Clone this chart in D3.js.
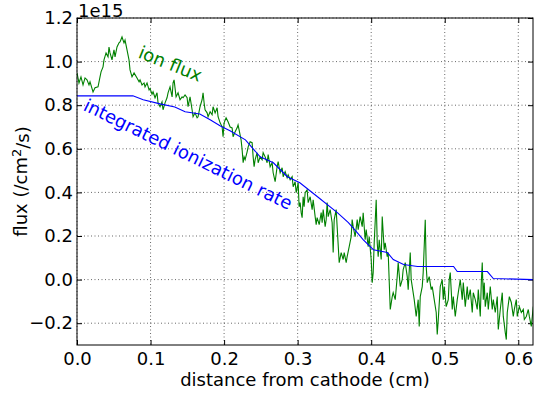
<!DOCTYPE html>
<html>
<head>
<meta charset="utf-8">
<script src="https://cdn.jsdelivr.net/npm/d3@7/dist/d3.min.js"></script>
<style>
  body { margin: 0; background: #fff; }
  text { font-family: "DejaVu Sans", sans-serif; }
</style>
</head>
<body>
<div id="chart"></div>
<script>
// flux values are in units of 1e15 /cm^2/s
const ionDist = [0.0000,0.0027,0.0054,0.0082,0.0109,0.0136,0.0163,0.0177,0.0218,0.0245,0.0286,0.0313,0.0327,0.0354,0.0367,0.0395,0.0422,0.0435,0.0449,0.0476,0.0503,0.0517,0.0544,0.0571,0.0585,0.0612,0.0639,0.0653,0.0680,0.0707,0.0721,0.0748,0.0776,0.0816,0.0844,0.0857,0.0884,0.0912,0.0925,0.0952,0.0980,0.0993,0.1020,0.1034,0.1061,0.1088,0.1102,0.1129,0.1156,0.1170,0.1197,0.1224,0.1238,0.1265,0.1293,0.1306,0.1320,0.1347,0.1374,0.1401,0.1429,0.1442,0.1469,0.1497,0.1510,0.1537,0.1565,0.1578,0.1605,0.1633,0.1646,0.1673,0.1701,0.1714,0.1728,0.1741,0.1769,0.1782,0.1810,0.1837,0.1850,0.1878,0.1905,0.1918,0.1946,0.1973,0.1986,0.2000,0.2027,0.2054,0.2082,0.2109,0.2122,0.2150,0.2177,0.2190,0.2204,0.2231,0.2245,0.2259,0.2272,0.2286,0.2313,0.2327,0.2354,0.2381,0.2395,0.2408,0.2422,0.2449,0.2463,0.2490,0.2517,0.2531,0.2558,0.2585,0.2599,0.2626,0.2653,0.2667,0.2694,0.2721,0.2735,0.2762,0.2789,0.2803,0.2830,0.2857,0.2871,0.2898,0.2925,0.2939,0.2966,0.2980,0.3007,0.3020,0.3034,0.3048,0.3061,0.3075,0.3088,0.3102,0.3129,0.3143,0.3170,0.3197,0.3211,0.3238,0.3252,0.3265,0.3293,0.3320,0.3333,0.3347,0.3374,0.3388,0.3401,0.3415,0.3442,0.3469,0.3483,0.3497,0.3524,0.3537,0.3565,0.3592,0.3619,0.3633,0.3660,0.3673,0.3701,0.3728,0.3741,0.3755,0.3782,0.3810,0.3823,0.3850,0.3878,0.3891,0.3918,0.3932,0.3959,0.3973,0.4000,0.4014,0.4027,0.4041,0.4068,0.4082,0.4095,0.4109,0.4136,0.4150,0.4177,0.4190,0.4218,0.4231,0.4259,0.4286,0.4299,0.4327,0.4354,0.4367,0.4395,0.4422,0.4435,0.4463,0.4490,0.4503,0.4531,0.4544,0.4585,0.4612,0.4639,0.4653,0.4667,0.4694,0.4707,0.4735,0.4748,0.4762,0.4789,0.4816,0.4830,0.4857,0.4884,0.4898,0.4912,0.4939,0.4966,0.4980,0.4993,0.5020,0.5048,0.5061,0.5075,0.5102,0.5116,0.5143,0.5170,0.5184,0.5211,0.5238,0.5252,0.5279,0.5306,0.5320,0.5347,0.5374,0.5388,0.5415,0.5442,0.5456,0.5483,0.5497,0.5510,0.5524,0.5537,0.5551,0.5578,0.5592,0.5619,0.5646,0.5660,0.5687,0.5714,0.5728,0.5755,0.5782,0.5796,0.5823,0.5837,0.5850,0.5878,0.5905,0.5932,0.5946,0.5973,0.5986,0.6014,0.6041,0.6068,0.6082,0.6109,0.6136,0.6150,0.6177,0.6204];
const ionFlux = [0.948,0.902,0.930,0.893,0.925,0.916,0.893,0.907,0.861,0.880,0.884,0.930,0.953,0.976,1.008,1.040,1.022,1.067,1.040,1.008,1.054,1.022,1.067,1.086,1.090,1.113,1.086,1.099,1.054,1.008,0.962,0.930,0.948,0.925,0.907,0.916,0.893,0.902,0.884,0.902,0.870,0.877,0.850,0.861,0.834,0.857,0.811,0.793,0.815,0.779,0.811,0.834,0.857,0.884,0.838,0.902,0.916,0.838,0.857,0.825,0.838,0.834,0.847,0.834,0.793,0.838,0.779,0.747,0.765,0.742,0.747,0.793,0.825,0.857,0.811,0.779,0.765,0.747,0.770,0.756,0.793,0.765,0.788,0.747,0.719,0.701,0.655,0.719,0.742,0.724,0.700,0.696,0.655,0.678,0.696,0.710,0.687,0.641,0.596,0.536,0.563,0.550,0.586,0.609,0.632,0.628,0.563,0.518,0.550,0.582,0.536,0.563,0.550,0.582,0.563,0.536,0.573,0.518,0.536,0.490,0.449,0.518,0.541,0.490,0.513,0.472,0.495,0.467,0.481,0.458,0.472,0.426,0.449,0.399,0.444,0.334,0.353,0.307,0.284,0.380,0.334,0.399,0.412,0.353,0.380,0.321,0.366,0.289,0.252,0.284,0.252,0.307,0.261,0.321,0.243,0.275,0.353,0.289,0.321,0.261,0.124,0.275,0.321,0.243,0.078,0.124,0.092,0.124,0.078,0.105,0.151,0.197,0.275,0.243,0.197,0.275,0.229,0.289,0.243,0.307,0.183,0.229,0.151,0.197,0.092,-0.014,0.032,0.169,0.366,0.169,0.105,0.183,0.092,0.289,0.137,0.169,0.105,0.124,-0.137,-0.078,-0.060,-0.092,0.014,0.078,-0.032,0.000,0.046,0.078,0.014,-0.046,0.124,0.000,-0.092,-0.169,-0.092,-0.215,-0.078,-0.032,0.032,0.275,0.060,-0.014,0.014,-0.046,-0.032,-0.092,-0.151,-0.252,-0.183,-0.032,0.000,-0.092,-0.032,-0.124,-0.092,0.000,0.032,-0.137,-0.078,-0.169,-0.092,-0.060,0.000,-0.092,-0.014,-0.124,-0.032,-0.092,-0.046,-0.151,-0.060,-0.092,-0.137,-0.046,-0.169,-0.014,0.078,-0.092,-0.014,-0.124,-0.060,-0.137,-0.032,-0.137,-0.092,-0.151,-0.078,-0.229,-0.137,-0.060,-0.169,-0.243,-0.275,-0.151,-0.078,-0.105,-0.169,-0.137,-0.092,-0.169,-0.124,-0.151,-0.137,-0.183,-0.169,-0.137,-0.169,-0.215,-0.124];

const ionizDist = [0.000,0.076,0.090,0.113,0.133,0.147,0.167,0.181,0.195,0.208,0.229,0.249,0.267,0.286,0.303,0.327,0.354,0.369,0.381,0.389,0.403,0.422,0.430,0.444,0.463,0.512,0.517,0.558,0.566,0.620];
const ionizRate = [0.843,0.843,0.825,0.806,0.792,0.770,0.760,0.733,0.705,0.683,0.641,0.563,0.536,0.472,0.444,0.380,0.307,0.261,0.215,0.183,0.137,0.124,0.092,0.069,0.060,0.060,0.037,0.037,0.005,0.000];

const xTicks = [0.0,0.1,0.2,0.3,0.4,0.5,0.6];
const yTicks = [-0.2,0.0,0.2,0.4,0.6,0.8,1.0,1.2];

const W = 534, H = 396;
const margin = {left: 77, top: 18, right: 1, bottom: 51};
const iw = W - margin.left - margin.right;
const ih = H - margin.top - margin.bottom;
const fs = "18px";

const svg = d3.select("#chart").append("svg")
    .attr("width", W)
    .attr("height", H);

const g = svg.append("g")
    .attr("transform", `translate(${margin.left},${margin.top})`);

const x = d3.scaleLinear().domain([0, 0.62]).range([0, iw]);
const y = d3.scaleLinear().domain([-0.3, 1.2]).range([ih, 0]);

svg.append("defs").append("clipPath").attr("id", "clip")
    .append("rect").attr("width", iw).attr("height", ih);

// grid
g.append("g").selectAll("line").data(xTicks).join("line")
    .attr("x1", d => x(d)).attr("x2", d => x(d))
    .attr("y1", 0).attr("y2", ih)
    .attr("stroke", "#000").attr("stroke-width", 0.6)
    .attr("stroke-dasharray", "1,2.5");
g.append("g").selectAll("line").data(yTicks).join("line")
    .attr("x1", 0).attr("x2", iw)
    .attr("y1", d => y(d)).attr("y2", d => y(d))
    .attr("stroke", "#000").attr("stroke-width", 0.6)
    .attr("stroke-dasharray", "1,2.5");

const fmt = d3.format(".1f");

// axes, ticks pointing inwards
g.append("g").attr("transform", `translate(0,${ih})`)
    .call(d3.axisBottom(x).tickValues(xTicks).tickFormat(fmt).tickSize(-5).tickSizeOuter(0).tickPadding(7));
g.append("g")
    .call(d3.axisLeft(y).tickValues(yTicks).tickFormat(fmt).tickSize(-5).tickSizeOuter(0).tickPadding(4));
g.append("g")
    .call(d3.axisTop(x).tickValues(xTicks).tickFormat("").tickSize(-5).tickSizeOuter(0));
g.append("g").attr("transform", `translate(${iw},0)`)
    .call(d3.axisRight(y).tickValues(yTicks).tickFormat("").tickSize(-5).tickSizeOuter(0));

g.selectAll(".domain").remove();
g.selectAll(".tick line").attr("stroke", "#000");
g.selectAll(".tick text")
    .attr("fill", "#000")
    .style("font-size", fs)
    .style("font-family", "'DejaVu Sans', sans-serif");

// data lines
const line = d3.line().x(d => x(d[0])).y(d => y(d[1]));
const plot = g.append("g").attr("clip-path", "url(#clip)");

plot.append("path")
    .datum(ionDist.map((d, i) => [d, ionFlux[i]]))
    .attr("d", line)
    .attr("fill", "none")
    .attr("stroke", "#008000")
    .attr("stroke-width", 1.1);

plot.append("path")
    .datum(ionizDist.map((d, i) => [d, ionizRate[i]]))
    .attr("d", line)
    .attr("fill", "none")
    .attr("stroke", "#0000ff")
    .attr("stroke-width", 1.1);

// frame
g.append("rect")
    .attr("width", iw).attr("height", ih)
    .attr("fill", "none").attr("stroke", "#000").attr("stroke-width", 1);

// annotations
g.append("text")
    .attr("transform", `translate(${x(0.127)},${y(0.99)}) rotate(22)`)
    .attr("text-anchor", "middle")
    .attr("dy", "0.35em")
    .attr("fill", "#008000")
    .style("font-size", fs)
    .text("ion flux");

g.append("text")
    .attr("transform", `translate(${x(0.151)},${y(0.575)}) rotate(26)`)
    .attr("text-anchor", "middle")
    .attr("dy", "0.35em")
    .attr("fill", "#0000ff")
    .style("font-size", fs)
    .text("integrated ionization rate");

// offset label
svg.append("text")
    .attr("x", margin.left + 1).attr("y", 17)
    .style("font-size", fs)
    .text("1e15");

// axis titles
svg.append("text")
    .attr("x", margin.left + iw / 2).attr("y", 386)
    .attr("text-anchor", "middle")
    .style("font-size", fs)
    .text("distance from cathode (cm)");

const yl = svg.append("text")
    .attr("transform", `translate(27,${margin.top + ih / 2}) rotate(-90)`)
    .attr("text-anchor", "middle")
    .style("font-size", fs);
yl.append("tspan").text("flux (/cm");
yl.append("tspan").attr("dy", "-0.45em").style("font-size", "13px").text("2");
yl.append("tspan").attr("dy", "0.45em").text("/s)");
</script>
</body>
</html>
